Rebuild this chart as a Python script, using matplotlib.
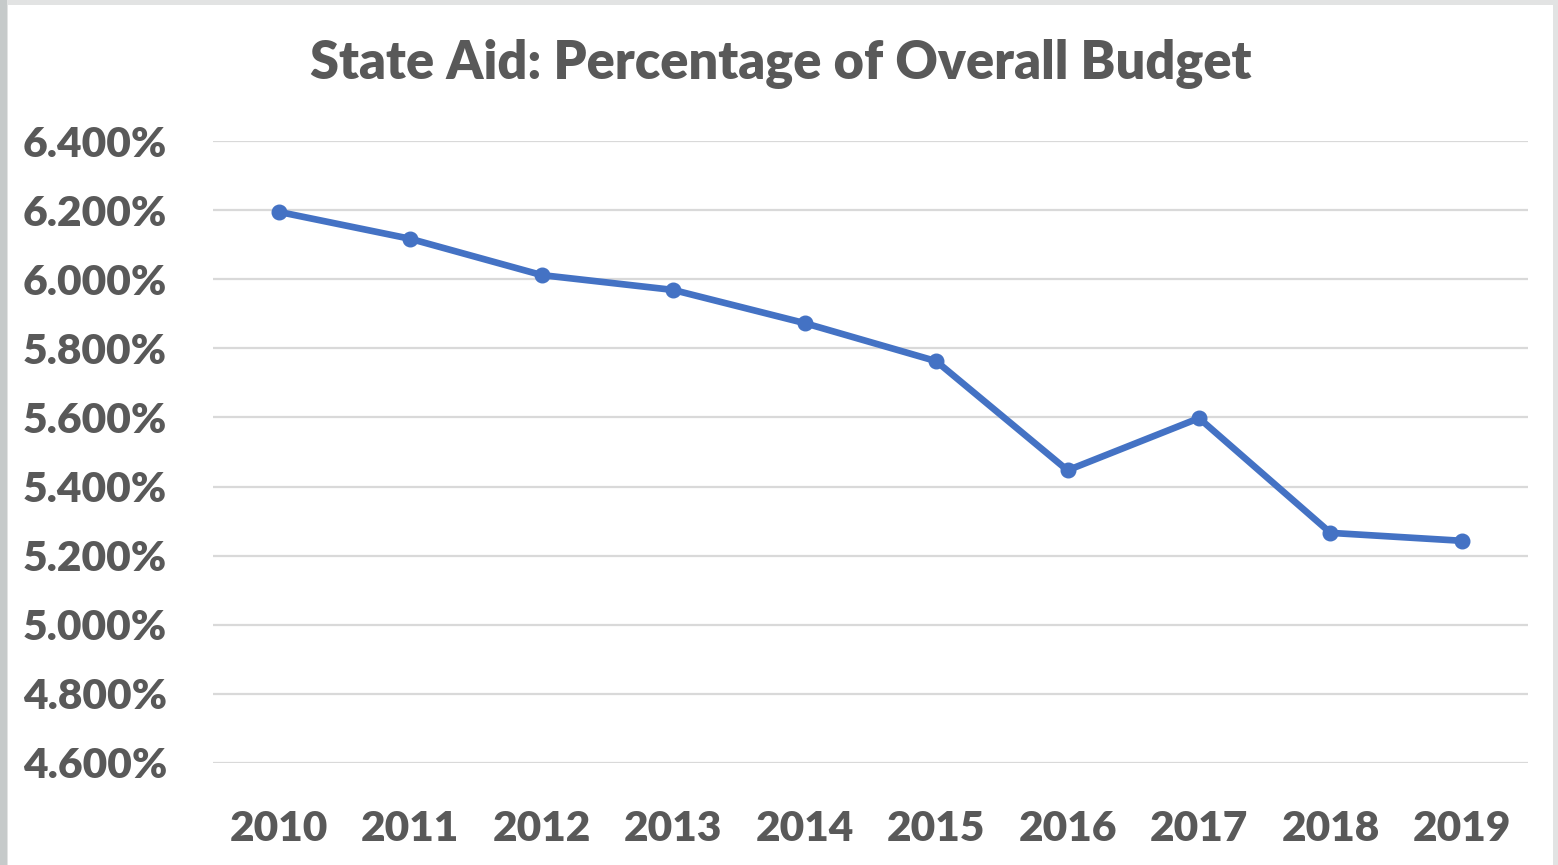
import matplotlib as mpl
mpl.use('Agg')
import matplotlib.pyplot as plt
from matplotlib.patches import Rectangle
from matplotlib.ticker import MultipleLocator, FuncFormatter

# values (percent of overall budget)
years = ['2010', '2011', '2012', '2013', '2014', '2015', '2016', '2017', '2018', '2019']
state_aid_pct = [6.195, 6.117, 6.012, 5.969, 5.873, 5.763, 5.447, 5.598, 5.266, 5.243]

title = 'State Aid: Percentage of Overall Budget'
text_color = '#595959'
line_color = '#4472C4'
grid_color = '#D9D9D9'

plt.rcParams['font.family'] = ['Lato', 'DejaVu Sans']

W, H = 1558, 865
fig = plt.figure(figsize=(W / 100, H / 100), dpi=100)
fig.patch.set_facecolor('#E2E3E3')
# white chart area inside the thin grey frame of the screenshot
fig.add_artist(Rectangle((8 / W, 0), (1553 - 8) / W, (H - 5) / H, transform=fig.transFigure,
                         facecolor='white', edgecolor='none', zorder=0))
fig.add_artist(Rectangle((0, 0), 7 / W, 1, transform=fig.transFigure,
                         facecolor='#C6CACA', edgecolor='none', zorder=0))

ax = fig.add_axes([213 / W, 1 - 763 / H, (1527.7 - 213) / W, (763 - 141) / H])
ax.set_facecolor('none')

x = range(len(years))
ax.plot(x, state_aid_pct, color=line_color, linewidth=4.8, marker='o', markersize=10.5,
        solid_capstyle='round', solid_joinstyle='round', zorder=3, clip_on=False)

ax.set_xlim(-0.5, len(years) - 0.5)
ax.set_ylim(4.6, 6.4)
ax.yaxis.set_major_locator(MultipleLocator(0.2))
ax.yaxis.set_major_formatter(FuncFormatter(lambda v, p: '%.3f%%' % v))
ax.set_xticks(list(x))
ax.set_xticklabels(years)

ax.yaxis.grid(True, color=grid_color, linewidth=1.6)
ax.set_axisbelow(True)
for s in ax.spines.values():
  s.set_visible(False)
ax.tick_params(length=0, labelsize=30.5, labelcolor=text_color)
ax.tick_params(axis='y', pad=33)
ax.tick_params(axis='x', pad=34)
for lbl in ax.get_xticklabels() + ax.get_yticklabels():
  lbl.set_fontweight('heavy')

fig.text(781 / W, 1 - 64 / H, title, ha='center', va='center', fontsize=37.6,
         fontweight='heavy', color=text_color)

fig.savefig('out.png', dpi=100, facecolor=fig.get_facecolor())
plt.close()
